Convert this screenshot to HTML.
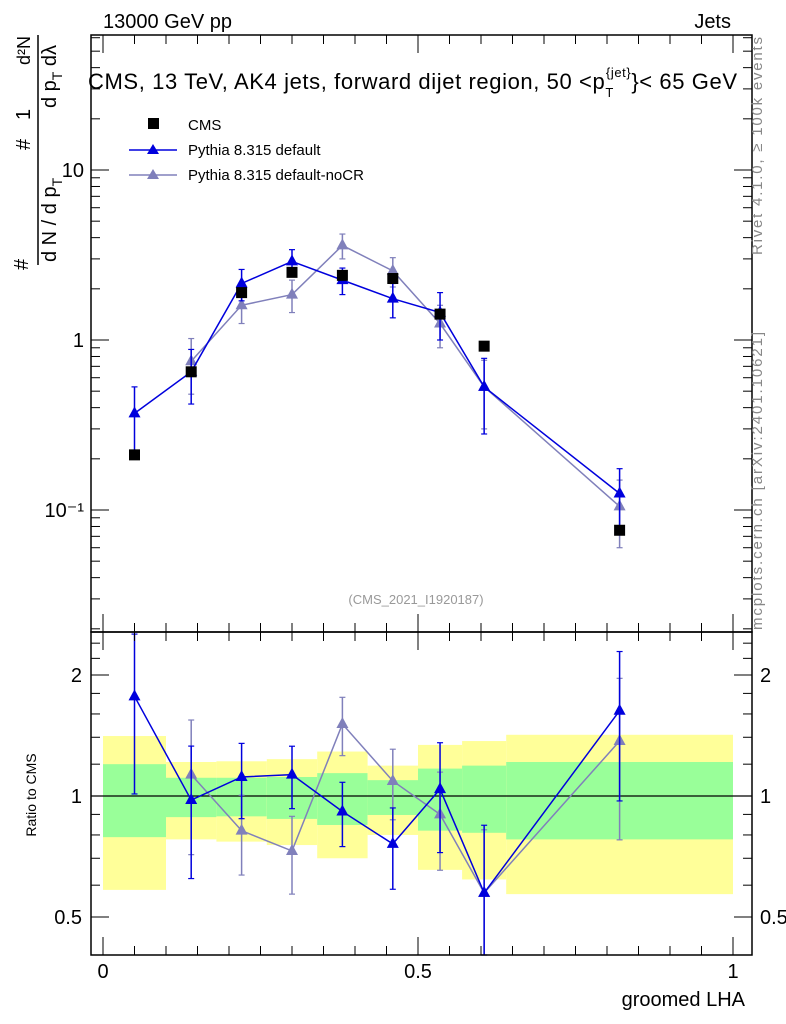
<!DOCTYPE html>
<html><head><meta charset="utf-8"><style>
body{margin:0;background:#fff}
svg{display:block;font-family:"Liberation Sans",sans-serif}
</style></head><body>
<svg id="chart" width="786" height="1024" viewBox="0 0 786 1024">
<g id="bands"></g>
<g id="ratioline"></g>
<g id="marks"></g>
<g id="axes"></g>
<text x="103" y="28" font-size="20">13000 GeV pp</text>
<text x="731" y="28" font-size="20" text-anchor="end">Jets</text>
<text x="88" y="89" font-size="22" letter-spacing="0.6">CMS, 13 TeV, AK4 jets, forward dijet region, 50 &lt;p<tspan dy="8" font-size="13">T</tspan><tspan dy="-20" dx="-8" font-size="13">{jet}</tspan><tspan dy="12">}&lt; 65 GeV</tspan></text>
<text x="416" y="604" font-size="13" fill="#999" text-anchor="middle">(CMS_2021_I1920187)</text>
<g>
<rect x="148" y="118" width="11" height="11" fill="#000"/>
<text x="188" y="130" font-size="15">CMS</text>
<line x1="129" y1="150" x2="177" y2="150" stroke="#0000dd" stroke-width="1.5"/>
<path d="M153,144 L159,154 L147,154Z" fill="#0000dd"/>
<text x="188" y="155" font-size="15">Pythia 8.315 default</text>
<line x1="129" y1="175" x2="177" y2="175" stroke="#8080bb" stroke-width="1.5"/>
<path d="M153,169 L159,179 L147,179Z" fill="#8080bb"/>
<text x="188" y="180" font-size="15">Pythia 8.315 default-noCR</text>
</g>
<g font-size="20">
<text transform="translate(28,270) rotate(-90)">#</text>
<text transform="translate(56,262) rotate(-90)">d N / d p<tspan font-size="14" dy="6">T</tspan></text>
<line x1="38" y1="265" x2="38" y2="35" stroke="#000" stroke-width="1.5"/>
<text transform="translate(30,120) rotate(-90)">1</text>
<text transform="translate(56,108) rotate(-90)">d p<tspan font-size="14" dy="6">T</tspan><tspan dy="-6"> d</tspan>λ</text>
<text transform="translate(30,150) rotate(-90)">#</text>
<text transform="translate(30,65) rotate(-90)" font-size="18">d²N</text>
</g>
<text transform="translate(762,255) rotate(-90)" font-size="15" fill="#888" textLength="218" lengthAdjust="spacing">Rivet 4.1.0, ≥ 100k events</text>
<text transform="translate(762,630) rotate(-90)" font-size="15" fill="#888" textLength="298" lengthAdjust="spacing">mcplots.cern.ch [arXiv:2401.10621]</text>
<text transform="translate(36,795) rotate(-90)" font-size="14" text-anchor="middle">Ratio to CMS</text>
<text x="745" y="1006" font-size="20" text-anchor="end">groomed LHA</text>
</svg>
<script>
const xCenters=[0.05,0.14,0.22,0.30,0.38,0.46,0.535,0.605,0.82];
const binEdges=[0,0.1,0.18,0.26,0.34,0.42,0.5,0.57,0.64,1.0];
const cmsVals=[0.211,0.65,1.9,2.5,2.4,2.3,1.42,0.92,0.076];
const blueVals=[0.37,0.65,2.15,2.9,2.25,1.75,1.45,0.53,0.125];
const blueErr=[0.16,0.23,0.45,0.5,0.4,0.4,0.45,0.25,0.05];
const grayVals=[null,0.75,1.6,1.85,3.6,2.55,1.25,0.53,0.105];
const grayErr=[null,0.27,0.35,0.4,0.6,0.5,0.35,0.23,0.045];
const blueRatio=[1.77,0.977,1.115,1.13,0.915,0.76,1.04,0.574,1.63];
const grayRatio=[null,1.13,0.82,0.73,1.51,1.09,0.90,0.574,1.37];
const yellowHi=[1.41,1.215,1.22,1.235,1.29,1.19,1.34,1.37,1.42];
const yellowLo=[0.584,0.78,0.77,0.755,0.70,0.80,0.655,0.62,0.57];
const greenHi=[1.20,1.11,1.11,1.115,1.14,1.095,1.17,1.19,1.215];
const greenLo=[0.79,0.886,0.89,0.877,0.847,0.897,0.82,0.81,0.78];
const mainTicks=["10","1","10⁻¹"];
const ratioTicks=["2","1","0.5"];
const xTicks=["0","0.5","1"];

const NS="http://www.w3.org/2000/svg";
const X=v=>103+630*v;
const Y=v=>340-170*Math.log10(v);
const R=v=>Math.max(632,Math.min(955,796-121*Math.log2(v)));
function mk(parent,tag,attrs){const e=document.createElementNS(NS,tag);for(const k in attrs)e.setAttribute(k,attrs[k]);document.getElementById(parent).appendChild(e);return e;}
for(let i=0;i<xCenters.length;i++){
 let e=mk('bands','rect',{x:X(binEdges[i]),y:R(yellowHi[i]),width:X(binEdges[i+1])-X(binEdges[i]),height:R(yellowLo[i])-R(yellowHi[i]),fill:'#ffff99'});
 
 
 e=mk('bands','rect',{x:X(binEdges[i]),y:R(greenHi[i]),width:X(binEdges[i+1])-X(binEdges[i]),height:R(greenLo[i])-R(greenHi[i]),fill:'#99ff99'});
 
 
}
mk('ratioline','line',{x1:91,x2:752,y1:R(1),y2:R(1),stroke:'#000','stroke-width':1.2});
function series(vals,errs,yf,color,name,ratio){
 let pts=[];
 for(let i=0;i<vals.length;i++){if(vals[i]==null)continue;pts.push(X(xCenters[i])+','+yf(vals[i]));}
 let pl=mk('marks','polyline',{points:pts.join(' '),fill:'none',stroke:color,'stroke-width':1.5});
 
 
 for(let i=0;i<vals.length;i++){if(vals[i]==null)continue;
  const x=X(xCenters[i]),y=yf(vals[i]);
  let e=errs[i];
  if(ratio)e=errs[i]/cmsVals[i];
  const lo=Math.max(vals[i]-e,0.01);
  const y1=yf(vals[i]+e),y2=yf(lo);
  mk('marks','line',{x1:x,x2:x,y1:y1,y2:y2,stroke:color,'stroke-width':1.5});
  mk('marks','line',{x1:x-3,x2:x+3,y1:y1,y2:y1,stroke:color,'stroke-width':1.2});
  mk('marks','line',{x1:x-3,x2:x+3,y1:y2,y2:y2,stroke:color,'stroke-width':1.2});
  let t=mk('marks','path',{d:`M${x},${y-7} L${x+6},${y+4} L${x-6},${y+4}Z`,fill:color});
  
  
 }
}
series(grayVals,grayErr,Y,'#8080bb','pythia-nocr',false);
series(blueVals,blueErr,Y,'#0000dd','pythia-default',false);
series(grayRatio,grayErr,R,'#8080bb','ratio-nocr',true);
series(blueRatio,blueErr,R,'#0000dd','ratio-default',true);
for(let i=0;i<cmsVals.length;i++){
 let s=mk('marks','rect',{x:X(xCenters[i])-5.5,y:Y(cmsVals[i])-5.5,width:11,height:11,fill:'#000'});
 
 
}
mk('axes','rect',{x:91,y:35,width:661,height:597,fill:'none',stroke:'#000','stroke-width':1.5});
mk('axes','rect',{x:91,y:632,width:661,height:323,fill:'none',stroke:'#000','stroke-width':1.5});
for(let d=-2;d<=1;d++)for(let m=1;m<10;m++){const v=m*Math.pow(10,d);const y=Y(v);if(y<35||y>632)continue;const L=m==1?18:9;
 mk('axes','line',{x1:91,x2:91+L,y1:y,y2:y,stroke:'#000'});mk('axes','line',{x1:752-L,x2:752,y1:y,y2:y,stroke:'#000'});}
[10,1,0.1].forEach((v,i)=>{let t=mk('axes','text',{x:84,y:Y(v)+7,'font-size':20,'text-anchor':'end'});t.textContent=mainTicks[i];
 
 });
[0.4,0.5,0.6,0.7,0.8,0.9,1,1.2,1.4,1.6,1.8,2,2.2,2.4].forEach(v=>{const y=R(v);const L=(v==0.5||v==1||v==2)?18:9;
 mk('axes','line',{x1:91,x2:91+L,y1:y,y2:y,stroke:'#000'});mk('axes','line',{x1:752-L,x2:752,y1:y,y2:y,stroke:'#000'});});
[2,1,0.5].forEach((v,i)=>{let t=mk('axes','text',{x:82,y:R(v)+7,'font-size':20,'text-anchor':'end'});t.textContent=ratioTicks[i];
 
 
 let t2=mk('axes','text',{x:760,y:R(v)+7,'font-size':20});t2.textContent=ratioTicks[i];
 
 });
for(let k=0;k<=20;k++){const v=k*0.05;const x=X(v);const L=k%10==0?18:9;
 [[35,632],[632,955]].forEach(([t,b])=>{mk('axes','line',{x1:x,x2:x,y1:t,y2:t+L,stroke:'#000'});mk('axes','line',{x1:x,x2:x,y1:b-L,y2:b,stroke:'#000'});});}
[0,0.5,1].forEach((v,i)=>{let t=mk('axes','text',{x:X(v),y:978,'font-size':20,'text-anchor':'middle'});t.textContent=xTicks[i];
 
 });
</script>
</body></html>
